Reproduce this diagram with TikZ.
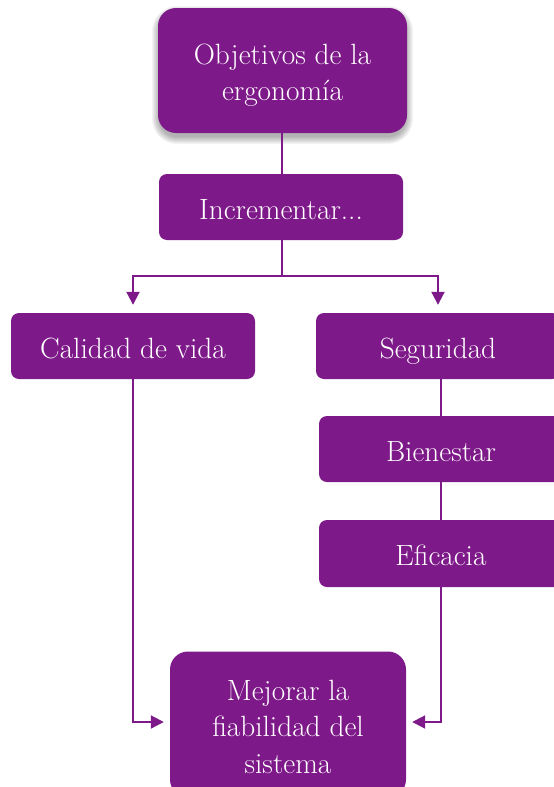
\documentclass[tikz,border=0pt]{standalone}
\usepackage{fontspec}
\setmainfont{Latin Modern Roman}
\usetikzlibrary{arrows.meta,calc}
\definecolor{purp}{RGB}{126,25,137}
\begin{document}
\begin{tikzpicture}[x=1pt,y=-1pt,
  box/.style={fill=purp,text=white,rounded corners=8pt,inner sep=0pt,
    minimum width=244pt,minimum height=66pt,align=center,
    text height=27pt,text depth=3pt,
    font=\fontsize{29.3}{36.5}\selectfont},
  bigbox/.style={box,rounded corners=18pt},
  conn/.style={draw=purp,line width=2pt},
  arr/.style={conn,-{Triangle[length=13pt,width=13pt]}}]
\useasboundingbox (0,0) rectangle (554,787);
\clip (0,0) rectangle (554,787);
% soft shadow under the title box
\foreach \g in {0,1,...,7}{
  \fill[black,opacity=0.045,rounded corners={18pt+\g pt}]
    (159-\g,13-\g) rectangle (406+\g,137+\g);
}
\node[bigbox,minimum width=249pt,minimum height=125pt,text height=63.5pt]
  (obj) at (282.5,70.5) {Objetivos de la\\ergonomía};
\node[box] (inc) at (281,207) {Incrementar...};
\node[box] (cal) at (133,346) {Calidad de vida};
\node[box] (seg) at (438,346) {Seguridad};
\node[box] (bie) at (441,449) {Bienestar};
\node[box,minimum height=67pt] (efi) at (441,553.5) {Eficacia};
\node[bigbox,minimum width=236pt,minimum height=146pt,text height=100pt] (mej) at (288,724.5)
  {Mejorar la\\fiabilidad del\\sistema};
\coordinate (split) at (282,276);
\draw[conn] (obj.south -| split) -- (inc.north -| split);
\draw[conn] (inc.south -| split) -- (split);
\draw[arr,shorten >=8pt] (split) -| (cal.north);
\draw[arr,shorten >=8pt] (split) -| (seg.north);
\draw[conn] (bie.north) -- (bie.north |- seg.south);
\draw[conn] (bie.south) -- (efi.north);
\draw[arr,shorten >=6pt] (cal.south) |- ($(mej.west)+(0,-2.5)$);
\draw[arr,shorten >=6pt] (efi.south) |- ($(mej.east)+(0,-2.5)$);
\end{tikzpicture}
\end{document}
